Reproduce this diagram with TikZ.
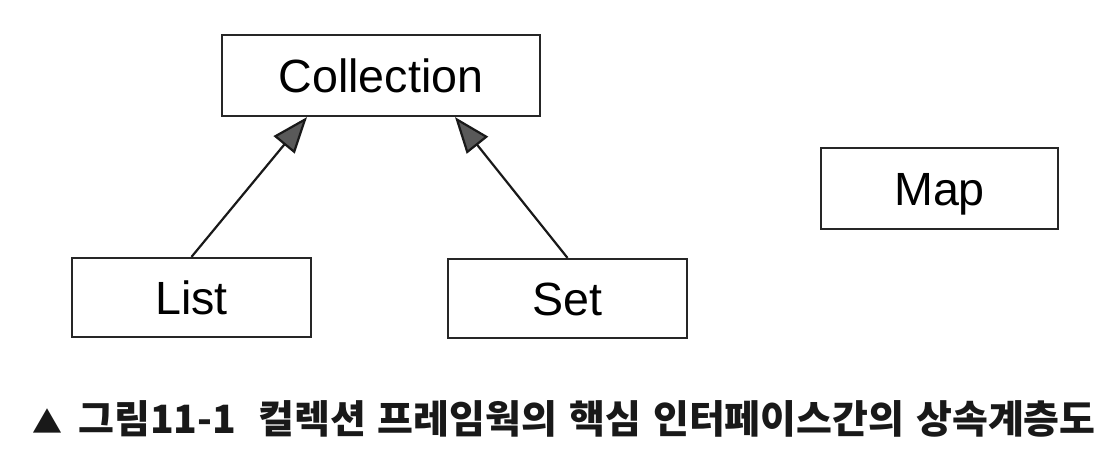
\documentclass[tikz,border=0pt]{standalone}
\usepackage{fontspec}
\setmainfont{Liberation Sans}
\newfontfamily\cjk{Noto Sans CJK KR}
\usetikzlibrary{arrows.meta}
\begin{document}
\begin{tikzpicture}[x=0.5pt,y=-0.5pt,
  box/.style={draw=black!85, line width=1.1pt, inner sep=0pt, text=black,
    font=\fontsize{23.3pt}{28pt}\selectfont, text height=16.7pt, text depth=0pt},
  inh/.style={line width=1.1pt, draw=black!90,
    -{Triangle[length=18pt,width=13.5pt,fill=black!65]}}]
\useasboundingbox (0,0) rectangle (1120,464);
\node[box, minimum width=159pt, minimum height=40.5pt] (coll) at (381,75.5) {Collection};
\node[box, minimum width=119.5pt, minimum height=39.5pt] (list) at (191.5,297.5) {List};
\node[box, minimum width=119.5pt, minimum height=39.5pt] (set) at (567.5,298.5) {Set};
\node[box, minimum width=118.5pt, minimum height=40.5pt] (map) at (939.5,188.5) {Map};
\coordinate (cl) at ([xshift=-37pt]coll.south);
\coordinate (cr) at ([xshift=37pt]coll.south);
\draw[inh] (list.north) -- (cl);
\draw[inh] (set.north) -- (cr);
\node[anchor=west, inner sep=0pt, text=black!90, font=\cjk\bfseries\fontsize{19.5pt}{22pt}\selectfont] (cap) at (32,419)
  {{\fontsize{15pt}{15pt}\selectfont ▲}\hspace{8pt}그림11-1\hspace{11pt}컬렉션\hspace{6pt}프레임웍의\hspace{6pt}핵심\hspace{6pt}인터페이스간의\hspace{6pt}상속계층도};
\end{tikzpicture}
\end{document}
